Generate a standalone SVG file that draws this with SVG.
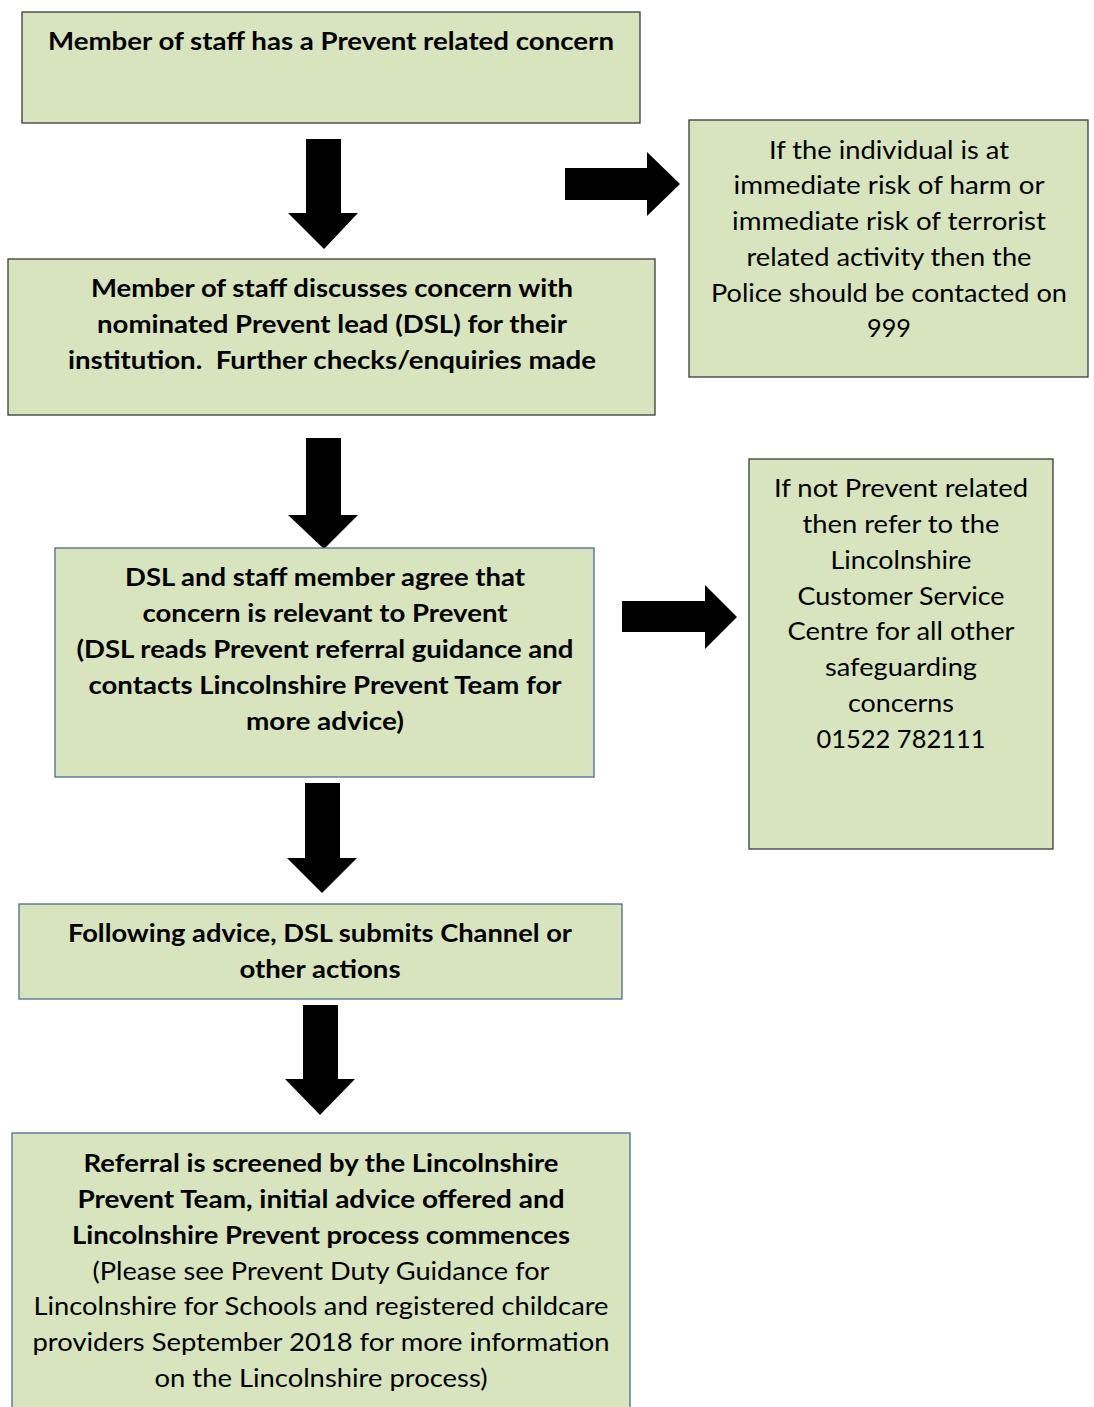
<svg xmlns="http://www.w3.org/2000/svg" width="1094" height="1407" viewBox="0 0 1094 1407">
<style>
.box{fill:#d7e4bd;stroke-width:1.3}
.dk{stroke:#3a3a3a}
.bl{stroke:#4a6b94}
.b{font-family:Lato,"Open Sans","Liberation Sans",sans-serif;font-weight:bold;font-size:25px;fill:#000}
.r{font-family:Lato,"Open Sans","Liberation Sans",sans-serif;font-size:25px;fill:#000}
.arr{fill:#000}
</style>
<rect width="1094" height="1407" fill="#fff"/>
<g id="connectors">
<polygon class="arr" points="306,139 341,139 341,213 358,213 324,249 288,213 306,213"/>
<polygon class="arr" points="565,168 647,168 647,152 680,184 647,216 647,200 565,200"/>
<polygon class="arr" points="306,438 341,438 341,515 358,515 324,549 288,515 306,515"/>
<polygon class="arr" points="622,601 705,601 705,585 737,617 705,649 705,632 622,632"/>
<polygon class="arr" points="305,783 340,783 340,858 357,858 322,893 287,858 305,858"/>
<polygon class="arr" points="303,1005 338,1005 338,1079 355,1079 320,1115 285,1079 303,1079"/>
</g>
<g id="n1">
<rect class="box dk" x="22" y="12" width="618" height="111"/>
<text class="b" x="331" y="50" text-anchor="middle" textLength="566" lengthAdjust="spacingAndGlyphs">Member of staff has a Prevent related concern</text>
</g>
<g id="n2">
<rect class="box dk" x="8" y="259" width="647" height="156"/>
<text class="b" x="332" y="297" text-anchor="middle" textLength="482" lengthAdjust="spacingAndGlyphs">Member of staff discusses concern with</text>
<text class="b" x="332" y="333" text-anchor="middle" textLength="470" lengthAdjust="spacingAndGlyphs">nominated Prevent lead (DSL) for their</text>
<text class="b" x="332" y="369" text-anchor="middle" textLength="528" lengthAdjust="spacingAndGlyphs">institution.&#160; Further checks/enquiries made</text>
</g>
<g id="n_police">
<rect class="box dk" x="689" y="120" width="399" height="257"/>
<text class="r" x="889" y="159" text-anchor="middle" textLength="240" lengthAdjust="spacingAndGlyphs">If the individual is at</text>
<text class="r" x="889" y="194" text-anchor="middle" textLength="311" lengthAdjust="spacingAndGlyphs">immediate risk of harm or</text>
<text class="r" x="889" y="230" text-anchor="middle" textLength="314" lengthAdjust="spacingAndGlyphs">immediate risk of terrorist</text>
<text class="r" x="889" y="266" text-anchor="middle" textLength="285" lengthAdjust="spacingAndGlyphs">related activity then the</text>
<text class="r" x="889" y="302" text-anchor="middle" textLength="356" lengthAdjust="spacingAndGlyphs">Police should be contacted on</text>
<text class="r" x="889" y="337" text-anchor="middle" textLength="44" lengthAdjust="spacingAndGlyphs">999</text>
</g>
<g id="n3">
<rect class="box bl" x="55" y="548" width="539" height="229"/>
<text class="b" x="325" y="586" text-anchor="middle" textLength="400" lengthAdjust="spacingAndGlyphs">DSL and staff member agree that</text>
<text class="b" x="325" y="622" text-anchor="middle" textLength="365" lengthAdjust="spacingAndGlyphs">concern is relevant to Prevent</text>
<text class="b" x="325" y="658" text-anchor="middle" textLength="497" lengthAdjust="spacingAndGlyphs">(DSL reads Prevent referral guidance and</text>
<text class="b" x="325" y="694" text-anchor="middle" textLength="473" lengthAdjust="spacingAndGlyphs">contacts Lincolnshire Prevent Team for</text>
<text class="b" x="325" y="730" text-anchor="middle" textLength="158" lengthAdjust="spacingAndGlyphs">more advice)</text>
</g>
<g id="n_csc">
<rect class="box dk" x="749" y="459" width="304" height="390"/>
<text class="r" x="901" y="497" text-anchor="middle" textLength="254" lengthAdjust="spacingAndGlyphs">If not Prevent related</text>
<text class="r" x="901" y="533" text-anchor="middle" textLength="197" lengthAdjust="spacingAndGlyphs">then refer to the</text>
<text class="r" x="901" y="569" text-anchor="middle" textLength="141" lengthAdjust="spacingAndGlyphs">Lincolnshire</text>
<text class="r" x="901" y="605" text-anchor="middle" textLength="207" lengthAdjust="spacingAndGlyphs">Customer Service</text>
<text class="r" x="901" y="640" text-anchor="middle" textLength="227" lengthAdjust="spacingAndGlyphs">Centre for all other</text>
<text class="r" x="901" y="676" text-anchor="middle" textLength="152" lengthAdjust="spacingAndGlyphs">safeguarding</text>
<text class="r" x="901" y="712" text-anchor="middle" textLength="106" lengthAdjust="spacingAndGlyphs">concerns</text>
<text class="r" x="901" y="748" text-anchor="middle" textLength="169" lengthAdjust="spacingAndGlyphs">01522 782111</text>
</g>
<g id="n4">
<rect class="box bl" x="19" y="904" width="603" height="95"/>
<text class="b" x="320" y="942" text-anchor="middle" textLength="504" lengthAdjust="spacingAndGlyphs">Following advice, DSL submits Channel or</text>
<text class="b" x="320" y="978" text-anchor="middle" textLength="161" lengthAdjust="spacingAndGlyphs">other actions</text>
</g>
<g id="n5">
<rect class="box bl" x="12" y="1133" width="618" height="290"/>
<text class="b" x="321" y="1172" text-anchor="middle" textLength="475" lengthAdjust="spacingAndGlyphs">Referral is screened by the Lincolnshire</text>
<text class="b" x="321" y="1208" text-anchor="middle" textLength="487" lengthAdjust="spacingAndGlyphs">Prevent Team, initial advice offered and</text>
<text class="b" x="321" y="1244" text-anchor="middle" textLength="498" lengthAdjust="spacingAndGlyphs">Lincolnshire Prevent process commences</text>
<text class="r" x="321" y="1280" text-anchor="middle" textLength="457" lengthAdjust="spacingAndGlyphs">(Please see Prevent Duty Guidance for</text>
<text class="r" x="321" y="1315" text-anchor="middle" textLength="575" lengthAdjust="spacingAndGlyphs">Lincolnshire for Schools and registered childcare</text>
<text class="r" x="321" y="1351" text-anchor="middle" textLength="577" lengthAdjust="spacingAndGlyphs">providers September 2018 for more information</text>
<text class="r" x="321" y="1387" text-anchor="middle" textLength="333" lengthAdjust="spacingAndGlyphs">on the Lincolnshire process)</text>
</g>
</svg>
